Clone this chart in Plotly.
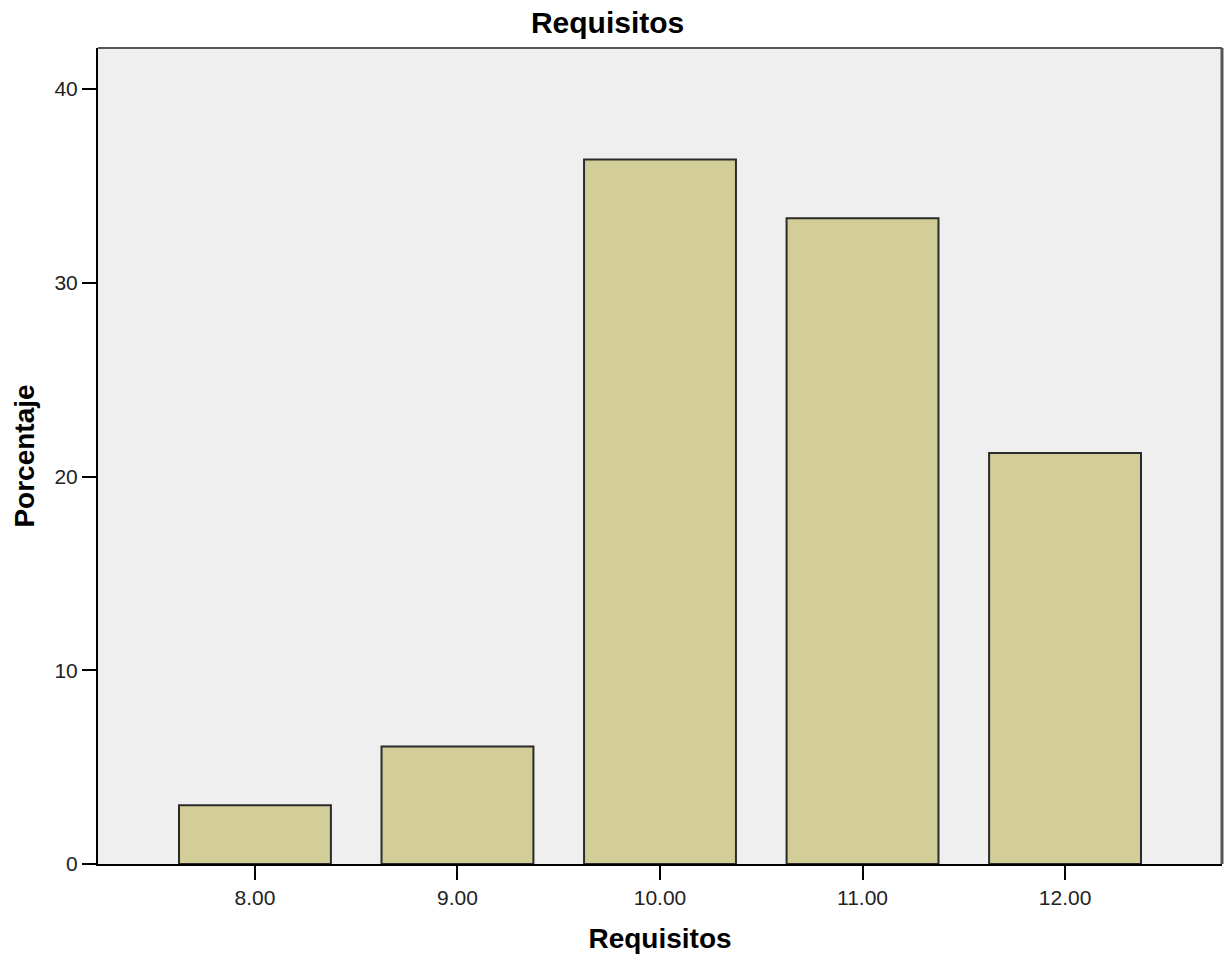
import plotly.graph_objects as go

categories = ["8.00", "9.00", "10.00", "11.00", "12.00"]
percentages = [3.03, 6.06, 36.36, 33.33, 21.21]
y_ticks = [0, 10, 20, 30, 40]

FONT = "Arial, Liberation Sans, sans-serif"

fig = go.Figure()
fig.add_trace(go.Bar(
    x=categories, y=percentages, width=0.75,
    marker=dict(color="#D3CE97", line=dict(color="#2b2b2b", width=2)),
))

fig.update_layout(
    width=1230, height=958,
    margin=dict(l=98, r=8, t=48, b=94),
    paper_bgcolor="white", plot_bgcolor="#EFEFEF",
    showlegend=False,
    font=dict(family=FONT, color="black"),
    title=dict(text="<b>Requisitos</b>", x=0.494, xanchor="center",
               xref="container", yref="container", y=1 - 22 / 958, yanchor="middle",
               font=dict(size=30, color="black")),
)
fig.update_xaxes(
    type="category", range=[-0.775, 4.775],
    showline=True, linecolor="black", linewidth=2,
    ticks="outside", ticklen=14, tickcolor="black", tickwidth=2,
    tickfont=dict(size=21, color="#222"), showgrid=False,
    title=dict(text="<b>Requisitos</b>", font=dict(size=28), standoff=20),
)
fig.update_yaxes(
    range=[0, 42.12], tickvals=y_ticks,
    showline=True, linecolor="black", linewidth=2,
    ticks="outside", ticklen=14, tickcolor="black", tickwidth=2,
    tickfont=dict(size=21, color="#222"), showgrid=False, zeroline=False,
    title=dict(text="<b>Porcentaje</b>", font=dict(size=28), standoff=12),
)
# grey frame on top and right
fig.add_shape(type="line", xref="paper", yref="paper", x0=0, x1=1, y0=1, y1=1,
              line=dict(color="#555555", width=2))
fig.add_shape(type="line", xref="paper", yref="paper", x0=1, x1=1, y0=0, y1=1,
              line=dict(color="#555555", width=3))

fig.write_html("out.html", config={"displayModeBar": False},
               post_script="document.body.style.margin='0';")
